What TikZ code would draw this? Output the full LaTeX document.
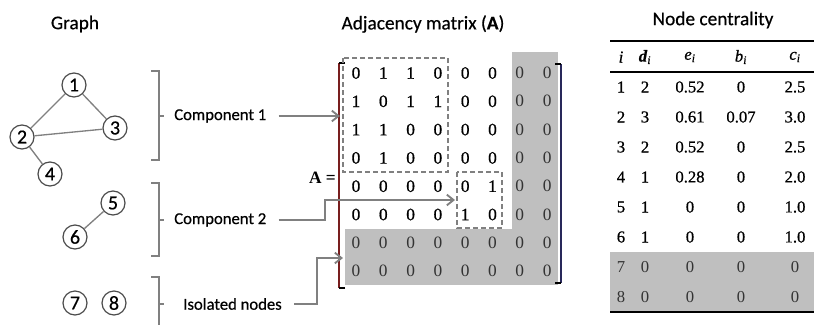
\documentclass[tikz,border=0pt]{standalone}
\usepackage{fontspec}
\setmainfont{Liberation Serif}
\newfontfamily\labelfont[FakeBold=0.5]{Carlito}
\newfontfamily\digitfont[FakeBold=0.7]{Liberation Serif}
\newfontfamily\lightdigitfont{Liberation Serif}
\usetikzlibrary{arrows.meta}

\begin{document}
\begin{tikzpicture}[x=0.75pt,y=-0.75pt,
  gnode/.style={circle, draw=black!70, line width=0.9pt, minimum size=18pt,
    inner sep=0pt, fill=white, font=\labelfont\fontsize{15}{15}\selectfont},
  gedge/.style={draw=black!50, line width=1pt},
  bracketline/.style={draw=black!50, line width=0.9pt},
  callout/.style={draw=black!50, line width=1.6pt,
    -{Straight Barb[length=5pt,width=8pt,line width=1.4pt]}},
  title/.style={font=\labelfont\fontsize{14.5}{14.5}\selectfont},
  lbl/.style={anchor=west, inner sep=0pt, font=\labelfont\fontsize{12.5}{12.5}\selectfont},
  mentry/.style={inner sep=0pt, font=\digitfont\fontsize{13}{13}\selectfont},
  mlight/.style={inner sep=0pt, text=black!80, font=\lightdigitfont\fontsize{13}{13}\selectfont},
  tentry/.style={inner sep=0pt, font=\digitfont\fontsize{12.5}{12.5}\selectfont},
  tlight/.style={inner sep=0pt, text=black!80, font=\lightdigitfont\fontsize{12.5}{12.5}\selectfont},
  dashbox/.style={draw=black!50, line width=1.2pt, dash pattern=on 3.5pt off 2.5pt},
  shade/.style={fill=black!25, draw=none}]
\useasboundingbox (0,0) rectangle (814,325);

% ---------- titles ----------
\node[title] (tgraph) at (75,24) {Graph};
\node[title] (tadj) at (423,24) {Adjacency matrix (\textbf{A})};
\node[title] (tcent) at (713,20) {Node centrality};

% ---------- graph ----------
\node[gnode] (n1) at (74,85) {1};
\node[gnode] (n2) at (22,137) {2};
\node[gnode] (n3) at (115,128) {3};
\node[gnode] (n4) at (50,174) {4};
\node[gnode] (n5) at (113,203) {5};
\node[gnode] (n6) at (75,237) {6};
\node[gnode] (n7) at (75,303) {7};
\node[gnode] (n8) at (114,303) {8};
\draw[gedge] (n1) -- (n2);
\draw[gedge] (n1) -- (n3);
\draw[gedge] (n2) -- (n3);
\draw[gedge] (n2) -- (n4);
\draw[gedge] (n5) -- (n6);

% ---------- brackets grouping the components ----------
\draw[bracketline] (151,71) -- (159,71) -- (159,160) -- (151,160);
\draw[bracketline] (159,116) -- (164,116);
\draw[bracketline] (151,183) -- (159,183) -- (159,256) -- (151,256);
\draw[bracketline] (159,220) -- (164,220);
\draw[bracketline] (151,277) -- (159,277) -- (159,325);
\draw[bracketline] (159,304) -- (164,304);

\node[lbl] (lab1) at (174,116) {Component 1};
\node[lbl] (lab2) at (174,220) {Component 2};
\node[lbl] (lab3) at (183,304) {Isolated nodes};

% ---------- adjacency matrix ----------
\fill[shade] (512,52) rectangle (558,285);
\fill[shade] (345,229) rectangle (558,285);

\foreach \r/\vals in {1/{0,1,1,0,0,0,0,0},2/{1,0,1,1,0,0,0,0},3/{1,1,0,0,0,0,0,0},
                      4/{0,1,0,0,0,0,0,0},5/{0,0,0,0,0,1,0,0},6/{0,0,0,0,1,0,0,0},
                      7/{0,0,0,0,0,0,0,0},8/{0,0,0,0,0,0,0,0}}{
  \foreach \v [count=\c] in \vals{
    \pgfmathsetmacro{\shaded}{(\r>6 || \c>6) ? 1 : 0}
    \ifdim\shaded pt>0.5pt
      \node[mlight] (m-\r-\c) at ({356+27.3*(\c-1)},{73+28.3*(\r-1)}) {\v};
    \else
      \node[mentry] (m-\r-\c) at ({356+27.3*(\c-1)},{73+28.3*(\r-1)}) {\v};
    \fi
  }
}

% matrix brackets
\draw[draw={rgb,255:red,120;green,30;blue,30}, line width=0.9pt] (339,63) -- (339,288);
\draw[black, line width=0.9pt] (345,63) -- (339,63);
\draw[black, line width=0.9pt] (345,288) -- (339,288);
\draw[draw={rgb,255:red,40;green,40;blue,90}, line width=0.9pt] (561,64) -- (561,283);
\draw[black, line width=0.9pt] (555,64) -- (561,64);
\draw[black, line width=0.9pt] (555,283) -- (561,283);

\node[anchor=east, inner sep=0pt, font=\fontsize{13}{13}\selectfont\bfseries] (aeq) at (336,178) {A =};

% component boxes
\draw[dashbox] (343,58) rectangle (448,172);
\draw[dashbox] (457,172) rectangle (502,228);

% callout arrows
\coordinate (c1tip) at (340,116);
\coordinate (c2bend) at (325,200);
\coordinate (c2tip) at (455,200);
\coordinate (c3bend) at (317,258);
\coordinate (c3tip) at (343,258);
\draw[callout, shorten <=9pt] (lab1.east) -- (c1tip);
\draw[callout, shorten <=9pt] (lab2.east) -| (c2bend) -- (c2tip);
\draw[callout, shorten <=9pt] (lab3.east) -| (c3bend) -- (c3tip);

% ---------- centrality table ----------
\fill[shade] (610,252) rectangle (814,312);
\draw[black, line width=0.8pt] (610,41) -- (814,41);
\draw[black, line width=1.6pt] (610,72) -- (814,72);
\draw[black, line width=1.6pt] (610,312) -- (814,312);

\node[tentry] (h-1) at (621,57) {\textit{i}};
\node[tentry] (h-2) at (645,57) {\textbf{\textit{d}}\textsubscript{\textit{i}}};
\node[tentry] (h-3) at (690,57) {\textit{e}\textsubscript{\textit{i}}};
\node[tentry] (h-4) at (741,57) {\textit{b}\textsubscript{\textit{i}}};
\node[tentry] (h-5) at (795,57) {\textit{c}\textsubscript{\textit{i}}};

\foreach \r/\a/\b/\e/\f in {1/2/0.52/0/2.5, 2/3/0.61/0.07/3.0, 3/2/0.52/0/2.5,
                            4/1/0.28/0/2.0, 5/1/0/0/1.0, 6/1/0/0/1.0,
                            7/0/0/0/0, 8/0/0/0/0}{
  \ifnum\r>6 \def\ts{tlight}\else\def\ts{tentry}\fi
  \node[\ts] (t-\r-1) at (621,{72+30*(\r-0.5)}) {\r};
  \node[\ts] (t-\r-2) at (645,{72+30*(\r-0.5)}) {\a};
  \node[\ts] (t-\r-3) at (690,{72+30*(\r-0.5)}) {\b};
  \node[\ts] (t-\r-4) at (741,{72+30*(\r-0.5)}) {\e};
  \node[\ts] (t-\r-5) at (795,{72+30*(\r-0.5)}) {\f};
}
\end{tikzpicture}
\end{document}
